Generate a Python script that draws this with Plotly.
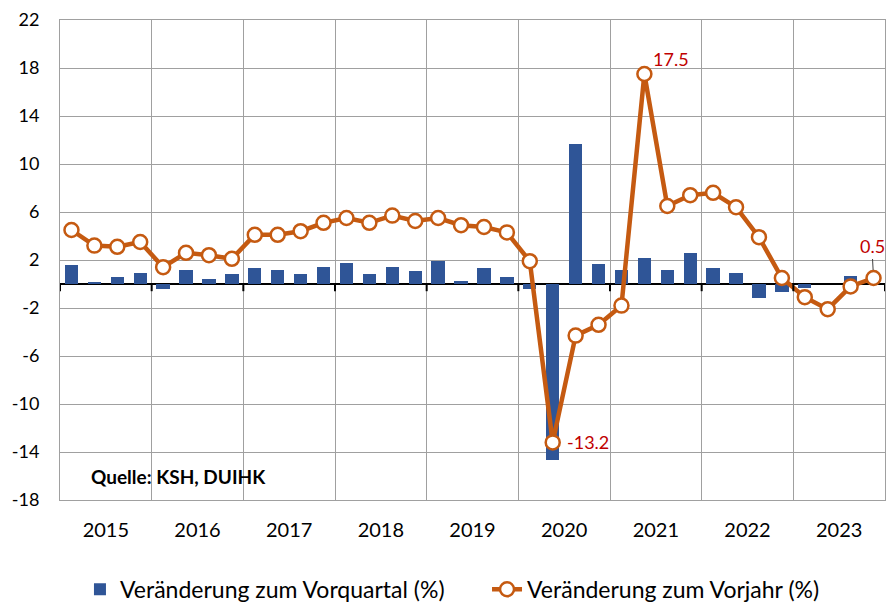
import plotly.graph_objects as go

# Quartale 2015 Q1 .. 2023 Q4
years = [2015, 2016, 2017, 2018, 2019, 2020, 2021, 2022, 2023]
quarters = [f"{y} Q{q}" for y in years for q in range(1, 5)]

# Veränderung zum Vorquartal (%)
vorquartal = [1.6, 0.1, 0.6, 0.95,
              -0.45, 1.15, 0.45, 0.85,
              1.35, 1.15, 0.85, 1.45,
              1.75, 0.85, 1.45, 1.05,
              1.95, 0.25, 1.35, 0.55,
              -0.4, -14.7, 11.65, 1.65,
              1.15, 2.15, 1.2, 2.55,
              1.3, 0.95, -1.15, -0.7,
              -0.3, 0.0, 0.7, 0.0]

# Veränderung zum Vorjahr (%)
vorjahr = [4.5, 3.2, 3.1, 3.5,
           1.4, 2.6, 2.4, 2.1,
           4.1, 4.1, 4.4, 5.1,
           5.5, 5.1, 5.7, 5.25,
           5.5, 4.9, 4.75, 4.3,
           1.9, -13.2, -4.3, -3.4,
           -1.8, 17.5, 6.5, 7.4,
           7.6, 6.4, 3.9, 0.5,
           -1.1, -2.1, -0.2, 0.5]

y_ticks = list(range(-18, 23, 4))

BLUE = "#2f5597"
ORANGE = "#c55a11"
RED = "#c00000"
GRID = "#a0a0a0"
FONT = "Lato"

x = list(range(len(quarters)))

fig = go.Figure()

fig.add_trace(go.Bar(
    x=x, y=vorquartal, name="Veränderung zum Vorquartal (%)",
    marker=dict(color=BLUE, line=dict(width=0)), width=0.58,
    legend="legend",
))

fig.add_trace(go.Scatter(
    x=x, y=vorjahr, name="Veränderung zum Vorjahr (%)",
    mode="lines+markers",
    line=dict(color=ORANGE, width=4.5),
    marker=dict(size=14, color="white", line=dict(color=ORANGE, width=2.5)),
    legend="legend2",
))

# Beschriftungen: Minimum, Maximum, letzter Wert
i_min = vorjahr.index(min(vorjahr))
i_max = vorjahr.index(max(vorjahr))
i_last = len(vorjahr) - 1
fig.add_annotation(x=i_min, y=vorjahr[i_min], text=f"{vorjahr[i_min]:.1f}",
                   showarrow=False, xanchor="left", xshift=12, yshift=0,
                   font=dict(color=RED, size=18, family=FONT))
fig.add_annotation(x=i_max, y=vorjahr[i_max], text=f"{vorjahr[i_max]:.1f}",
                   showarrow=False, xanchor="left", xshift=7, yshift=15,
                   font=dict(color=RED, size=18, family=FONT))
fig.add_annotation(x=i_last, y=vorjahr[i_last], text=f"{vorjahr[i_last]:.1f}",
                   showarrow=True, arrowhead=0, arrowwidth=1, arrowcolor="#404040",
                   ax=-1, ay=-19, yanchor="bottom", standoff=8,
                   font=dict(color=RED, size=18, family=FONT))

fig.add_annotation(x=0.035, y=0.048, xref="paper", yref="paper",
                   text="<b>Quelle: KSH, DUIHK</b>", showarrow=False,
                   xanchor="left", yanchor="middle",
                   font=dict(size=19, color="black", family=FONT))

# kleine Striche an der Nulllinie an den Jahresgrenzen
for k in range(len(years) + 1):
    fig.add_shape(type="line", x0=4 * k - 0.5, x1=4 * k - 0.5, y0=0, y1=-0.6,
                  xref="x", yref="y", line=dict(color="black", width=2))

legend_style = dict(orientation="h", y=-0.186, yanchor="middle", xanchor="left",
                    font=dict(size=23), bgcolor="rgba(0,0,0,0)")

fig.update_layout(
    width=888, height=604,
    margin=dict(l=60, r=3, t=20, b=104, autoexpand=False),
    plot_bgcolor="white", paper_bgcolor="white",
    font=dict(family=FONT, size=18, color="black"),
    bargap=0,
    showlegend=True,
    legend=dict(x=0.0242, **legend_style),
    legend2=dict(x=0.5176, **legend_style),
    xaxis=dict(
        range=[-0.5, len(quarters) - 0.5],
        tickmode="array",
        tickvals=[4 * k + 1.5 for k in range(len(years))],
        ticktext=[str(y) for y in years],
        tickfont=dict(size=20),
        ticks="", showgrid=False, zeroline=False,
        showline=True, mirror=True, linecolor=GRID, linewidth=1,
        automargin=False, ticklabelstandoff=12,
        minor=dict(tickmode="array", tickvals=[4 * k - 0.5 for k in range(len(years) + 1)],
                   showgrid=True, gridcolor=GRID, gridwidth=1, ticks=""),
    ),
    yaxis=dict(
        range=[-18, 22], tickmode="array", tickvals=y_ticks,
        ticktext=[str(v) for v in y_ticks],
        showgrid=True, gridcolor=GRID, gridwidth=1,
        zeroline=True, zerolinecolor="black", zerolinewidth=2,
        showline=True, mirror=True, linecolor=GRID, linewidth=1,
        ticks="", ticklabelstandoff=16, automargin=False,
    ),
)

fig.write_html("out.html", config={"displayModeBar": False},
               post_script="document.body.style.margin='0';")
